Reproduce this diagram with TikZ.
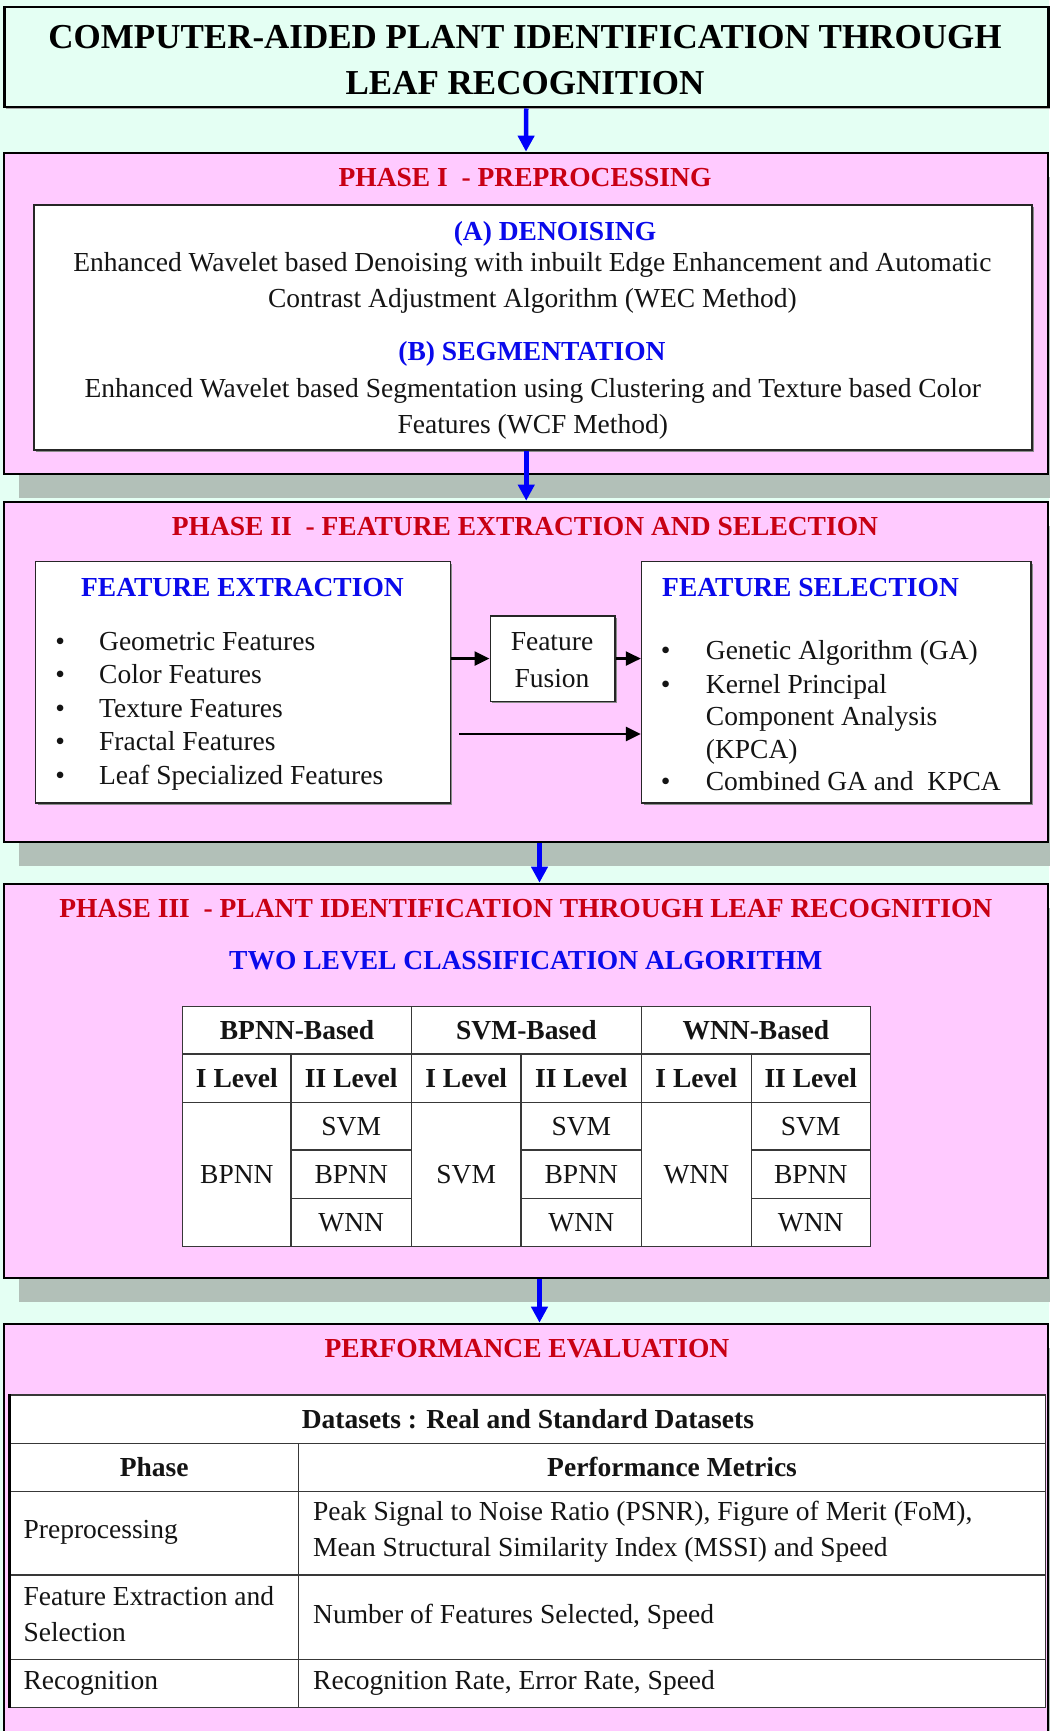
\documentclass[tikz,border=0pt]{standalone}
\usepackage{fontspec}
\setmainfont{Liberation Serif}
\usetikzlibrary{arrows.meta,shadows}
\definecolor{mintbg}{RGB}{228,255,243}
\definecolor{pinkbg}{RGB}{255,202,255}
\definecolor{shadegray}{RGB}{178,192,184}
\definecolor{phasered}{RGB}{200,0,20}
\definecolor{headblue}{RGB}{10,10,235}
\definecolor{arrowblue}{RGB}{0,0,250}
\newcommand\bodysize{\fontsize{27.5}{33}\selectfont}
\newcommand\titlesize{\fontsize{35}{42}\selectfont}
\begin{document}
\begin{tikzpicture}[x=1pt,y=-1pt,
  phasebox/.style={draw=black, line width=2pt, fill=pinkbg, anchor=north west, inner sep=0pt,
    drop shadow={shadow xshift=15pt, shadow yshift=-24pt, fill=shadegray, opacity=1}},
  whitebox/.style={draw=black!85, line width=1.6pt, fill=white, anchor=north west, inner sep=0pt,
    drop shadow={shadow xshift=2pt, shadow yshift=-2pt, fill=black!45, opacity=1}},
  txt/.style={inner sep=0pt, text height=18pt, text depth=0pt, font=\bodysize, text=black!92},
  redhead/.style={txt, font=\bodysize\bfseries, text=phasered},
  bluehead/.style={txt, font=\bodysize\bfseries, text=headblue},
  titletxt/.style={inner sep=0pt, text height=23pt, text depth=0pt, font=\titlesize\bfseries},
  cell/.style={draw=black!78, line width=1.4pt, fill=white, anchor=north west, inner sep=0pt,
    text height=18pt, text depth=0pt, font=\bodysize, text=black!92},
  hcell/.style={cell, font=\bodysize\bfseries},
  bluearrow/.style={draw=arrowblue, line width=4.5pt, -{Triangle[length=16pt,width=16pt]}},
  blackarrow/.style={draw=black, line width=2.5pt, -{Triangle[length=15pt,width=14pt]}}
]
\path[fill=mintbg, use as bounding box] (0,0) rectangle (1049,1731);

% ---------- Title ----------
\node[draw=black, line width=2.5pt, fill=mintbg, anchor=north west, inner sep=0pt,
  minimum width=1044pt, minimum height=100pt,
  drop shadow={shadow xshift=2pt, shadow yshift=-2pt, fill=black!35, opacity=1}] (titlebox) at (3,6) {};
\node[titletxt] (title1) at (525,37) {COMPUTER-AIDED PLANT IDENTIFICATION THROUGH};
\node[titletxt] (title2) at (525,83) {LEAF RECOGNITION};

% ---------- Phase I ----------
\node[phasebox, minimum width=1044pt, minimum height=321pt] (p1) at (3,151.7) {};
\node[redhead] (p1title) at (525,177) {PHASE I \ - PREPROCESSING};
\node[whitebox, minimum width=997.6pt, minimum height=245pt] (p1in) at (33.4,204) {};
\node[bluehead] (denh) at (555,231) {(A) DENOISING};
\node[txt] (den1) at (532.4,262) {Enhanced Wavelet based Denoising with inbuilt Edge Enhancement and Automatic};
\node[txt] (den2) at (532.4,298.3) {Contrast Adjustment Algorithm (WEC Method)};
\node[bluehead] (segh) at (532,351) {(B) SEGMENTATION};
\node[txt] (seg1) at (532.8,388.3) {Enhanced Wavelet based Segmentation using Clustering and Texture based Color};
\node[txt] (seg2) at (532.8,424.7) {Features (WCF Method)};

% ---------- Phase II ----------
\node[phasebox, minimum width=1044pt, minimum height=340pt] (p2) at (3,500.7) {};
\node[redhead] (p2title) at (525,526) {PHASE II \ - FEATURE EXTRACTION AND SELECTION};
\node[whitebox, minimum width=414.7pt, minimum height=241.3pt] (fe) at (34.8,560.7) {};
\node[whitebox, minimum width=124.5pt, minimum height=85.5pt] (ff) at (489.5,615) {};
\node[whitebox, minimum width=389.2pt, minimum height=241.3pt] (fs) at (640.8,560.7) {};
\node[bluehead] (feh) at (242.5,587.5) {FEATURE EXTRACTION};
\node[bluehead, anchor=west] (fsh) at (662,587.5) {FEATURE SELECTION};
\node[txt, anchor=west] (fe1) at (55.2,641) {\makebox[43.8pt][l]{\textbullet}Geometric Features};
\node[txt, anchor=west] (fe2) at (55.2,674) {\makebox[43.8pt][l]{\textbullet}Color Features};
\node[txt, anchor=west] (fe3) at (55.2,708.3) {\makebox[43.8pt][l]{\textbullet}Texture Features};
\node[txt, anchor=west] (fe4) at (55.2,741.7) {\makebox[43.8pt][l]{\textbullet}Fractal Features};
\node[txt, anchor=west] (fe5) at (55.2,775) {\makebox[43.8pt][l]{\textbullet}Leaf Specialized Features};
\node[txt] (ff1) at (552,641.3) {Feature};
\node[txt] (ff2) at (552,678.7) {Fusion};
\node[txt, anchor=west] (fs1) at (660.7,650.8) {\makebox[45pt][l]{\textbullet}Genetic Algorithm (GA)};
\node[txt, anchor=west] (fs2) at (660.7,684) {\makebox[45pt][l]{\textbullet}Kernel Principal};
\node[txt, anchor=west] (fs3) at (705.7,716.7) {Component Analysis};
\node[txt, anchor=west] (fs4) at (705.7,749.2) {(KPCA)};
\node[txt, anchor=west] (fs5) at (660.7,781.7) {\makebox[45pt][l]{\textbullet}Combined GA and \ KPCA};
\coordinate (lowstart) at (459.3,734);
\draw[blackarrow] (ff.west -| fe.east) -- (ff.west);
\draw[blackarrow] (ff.east) -- (ff.east -| fs.west);
\draw[blackarrow] (lowstart) -- (lowstart -| fs.west);

% ---------- Phase III ----------
\node[phasebox, minimum width=1044pt, minimum height=394.6pt] (p3) at (3,882.7) {};
\node[redhead] (p3title) at (525.8,908.3) {PHASE III \ - PLANT IDENTIFICATION THROUGH LEAF RECOGNITION};
\node[bluehead] (tlca) at (525.8,960.5) {TWO LEVEL CLASSIFICATION ALGORITHM};
\node[hcell, minimum width=228.7pt, minimum height=47.6pt] (hb) at (182,1005.7) {BPNN-Based};
\node[hcell, minimum width=230.1pt, minimum height=47.6pt] (hs) at (410.7,1005.7) {SVM-Based};
\node[hcell, minimum width=228.8pt, minimum height=47.6pt] (hw) at (640.8,1005.7) {WNN-Based};
\node[hcell, minimum width=108.3pt, minimum height=48.4pt] (l1) at (182,1053.3) {I Level};
\node[hcell, minimum width=120.4pt, minimum height=48.4pt] (l2) at (290.3,1053.3) {II Level};
\node[hcell, minimum width=109.7pt, minimum height=48.4pt] (l3) at (410.7,1053.3) {I Level};
\node[hcell, minimum width=120.4pt, minimum height=48.4pt] (l4) at (520.4,1053.3) {II Level};
\node[hcell, minimum width=109.7pt, minimum height=48.4pt] (l5) at (640.8,1053.3) {I Level};
\node[hcell, minimum width=119.1pt, minimum height=48.4pt] (l6) at (750.5,1053.3) {II Level};
\node[cell, minimum width=108.3pt, minimum height=144pt] (b1) at (182,1101.7) {BPNN};
\node[cell, minimum width=120.4pt, minimum height=47.6pt] (b2a) at (290.3,1101.7) {SVM};
\node[cell, minimum width=120.4pt, minimum height=48.4pt] (b2b) at (290.3,1149.3) {BPNN};
\node[cell, minimum width=120.4pt, minimum height=48pt] (b2c) at (290.3,1197.7) {WNN};
\node[cell, minimum width=109.7pt, minimum height=144pt] (s1) at (410.7,1101.7) {SVM};
\node[cell, minimum width=120.4pt, minimum height=47.6pt] (s2a) at (520.4,1101.7) {SVM};
\node[cell, minimum width=120.4pt, minimum height=48.4pt] (s2b) at (520.4,1149.3) {BPNN};
\node[cell, minimum width=120.4pt, minimum height=48pt] (s2c) at (520.4,1197.7) {WNN};
\node[cell, minimum width=109.7pt, minimum height=144pt] (w1) at (640.8,1101.7) {WNN};
\node[cell, minimum width=119.1pt, minimum height=47.6pt] (w2a) at (750.5,1101.7) {SVM};
\node[cell, minimum width=119.1pt, minimum height=48.4pt] (w2b) at (750.5,1149.3) {BPNN};
\node[cell, minimum width=119.1pt, minimum height=48pt] (w2c) at (750.5,1197.7) {WNN};

% ---------- Performance evaluation ----------
\node[phasebox, minimum width=1044pt, minimum height=430pt] (perf) at (3,1322.7) {};
\node[redhead] (perftitle) at (527,1348.7) {PERFORMANCE EVALUATION};
\node[hcell, minimum width=1035.6pt, minimum height=48.4pt] (ds) at (9.4,1394.3) {Datasets : Real and Standard Datasets};
\node[hcell, minimum width=288.3pt, minimum height=48pt] (ph) at (9.4,1442.7) {Phase};
\node[hcell, minimum width=747.3pt, minimum height=48pt] (pm) at (297.7,1442.7) {Performance Metrics};
\node[cell, minimum width=288.3pt, minimum height=83.6pt] (r1a) at (9.4,1490.7) {};
\node[cell, minimum width=747.3pt, minimum height=83.6pt] (r1b) at (297.7,1490.7) {};
\node[cell, minimum width=288.3pt, minimum height=84.7pt] (r2a) at (9.4,1574.3) {};
\node[cell, minimum width=747.3pt, minimum height=84.7pt] (r2b) at (297.7,1574.3) {};
\node[cell, minimum width=288.3pt, minimum height=47.7pt] (r3a) at (9.4,1659) {};
\node[cell, minimum width=747.3pt, minimum height=47.7pt] (r3b) at (297.7,1659) {};
\draw[black, line width=3pt] (ds.north west) -- (r3a.south west);
\node[txt, anchor=west] (t1a) at (23.4,1529.8) {Preprocessing};
\node[txt, anchor=west] (t1b) at (313,1511.7) {Peak Signal to Noise Ratio (PSNR), Figure of Merit (FoM),};
\node[txt, anchor=west] (t1c) at (313,1547.5) {Mean Structural Similarity Index (MSSI) and Speed};
\node[txt, anchor=west] (t2a) at (23.4,1596.2) {Feature Extraction and};
\node[txt, anchor=west] (t2b) at (23.4,1632.5) {Selection};
\node[txt, anchor=west] (t2c) at (313,1614.2) {Number of Features Selected, Speed};
\node[txt, anchor=west] (t3a) at (23.4,1680) {Recognition};
\node[txt, anchor=west] (t3b) at (313,1680) {Recognition Rate, Error Rate, Speed};

% ---------- Flow arrows ----------
\draw[bluearrow] (titlebox.south) -- (p1.north);
\draw[bluearrow] (p1in.south -| titlebox.south) -- (p2.north -| titlebox.south);
\draw[bluearrow] ([xshift=13.5pt]p2.south) -- ([xshift=13.5pt]p3.north);
\draw[bluearrow] ([xshift=13.5pt]p3.south) -- ([xshift=13.5pt]perf.north);
\end{tikzpicture}
\end{document}
